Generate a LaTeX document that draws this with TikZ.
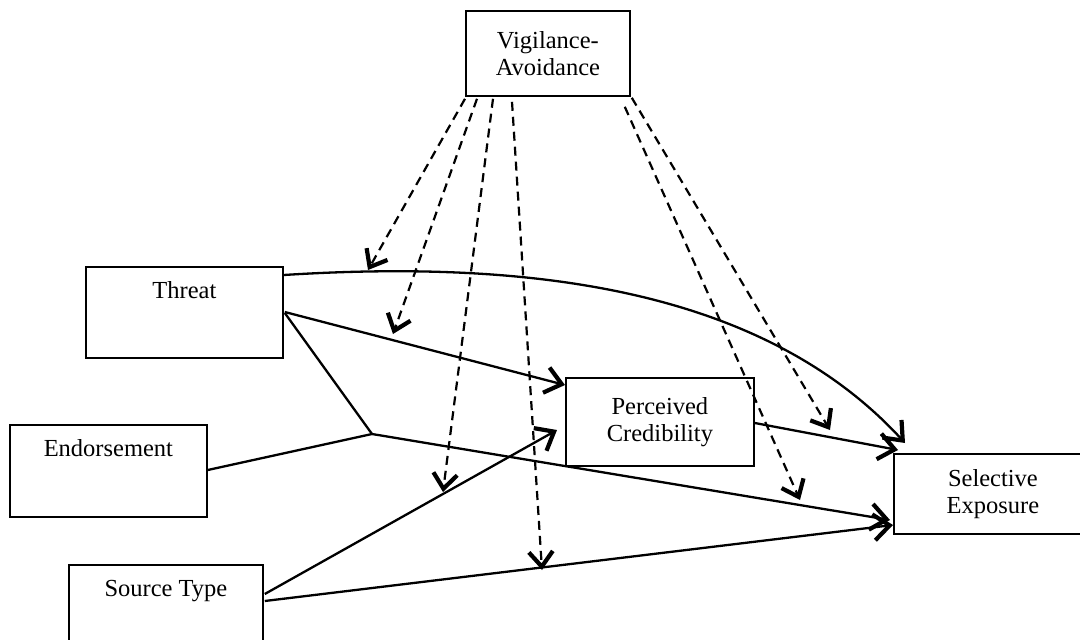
\documentclass[tikz,border=0pt]{standalone}
\usepackage{fontspec}
\setmainfont{Liberation Serif}
\usetikzlibrary{arrows.meta,calc}
\begin{document}
\begin{tikzpicture}[x=1pt,y=-1pt,
  box/.style={draw, line width=1.8pt, rectangle, inner sep=0pt, anchor=north west, align=center,
    font=\fontsize{24.5}{27}\selectfont},
  topbox/.style={box, inner ysep=8pt, text height=24pt, text depth=#1},
  conn/.style={line width=2.3pt, -{Straight Barb[length=16pt,width=26pt,line width=4.2pt]}},
  plain/.style={line width=2.3pt},
  dconn/.style={line width=2.2pt, dash pattern=on 9pt off 6pt,
    -{Straight Barb[length=15pt,width=24pt,line width=4.2pt]}}]
\useasboundingbox (0,0) rectangle (1080,640);
% boxes
\node[box, minimum width=164pt, minimum height=85pt] (vig) at (465,10) {Vigilance-\\Avoidance};
\node[topbox=51pt, minimum width=197pt] (threat) at (85,266) {Threat};
\node[topbox=52pt, minimum width=197pt] (endo) at (9,424) {Endorsement};
\node[topbox=51pt, minimum width=194pt] (src) at (68,564) {Source Type};
\node[box, minimum width=188pt, minimum height=88pt] (pc) at (565,377) {Perceived\\Credibility};
\node[box, minimum width=198pt, minimum height=80pt] (se) at (893,453) {Selective\\Exposure};
% junction
\coordinate (J) at (372,434);
% solid connectors
\draw[conn] ($(threat.north east)+(0,9)$) .. controls (520,260) and (760,285) .. ($(se.north west)+(12,-10)$);
\draw[conn] ($(threat.north east)+(1,46)$) -- ($(pc.north west)+(0,8)$);
\draw[plain] ($(threat.north east)+(1,47)$) -- (J);
\draw[plain] ($(endo.north east)+(0,46)$) -- (J);
\draw[conn] (J) -- ($(se.north west)+(-3,67)$);
\draw[conn] ($(src.north east)+(1,30)$) -- ($(pc.north west)+(-8,53)$);
\draw[conn] ($(src.north east)+(1,37)$) -- ($(se.north west)+(0,72)$);
\draw[conn] ($(pc.north east)+(0,46)$) -- ($(se.north west)+(5,-3)$);
% dashed moderators
\coordinate (ta) at (368,270);
\coordinate (tb) at (393,334);
\coordinate (tc) at (443,492);
\coordinate (td) at (542,570);
\coordinate (te) at (800,500);
\coordinate (tf) at (830,430);
\draw[dconn] ($(vig.south west)+(0,2)$) -- (ta);
\draw[dconn] ($(vig.south west)+(12,2)$) -- (tb);
\draw[dconn] ($(vig.south west)+(28,2)$) -- (tc);
\draw[dconn] ($(vig.south west)+(47,5)$) -- (td);
\draw[dconn] ($(vig.south east)+(-6,10)$) -- (te);
\draw[dconn] ($(vig.south east)+(1,1)$) -- (tf);
\end{tikzpicture}
\end{document}
